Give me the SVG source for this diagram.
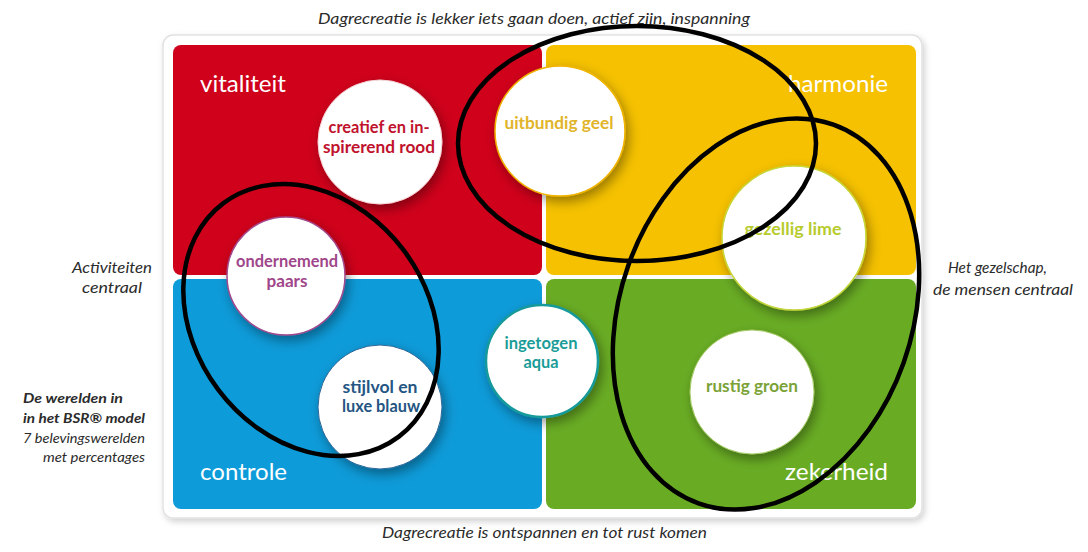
<svg xmlns="http://www.w3.org/2000/svg" width="1088" height="552" viewBox="0 0 1088 552">
  <defs>
    <filter id="panelShadow" x="-5%" y="-5%" width="110%" height="112%">
      <feDropShadow dx="2" dy="3" stdDeviation="3" flood-color="#000" flood-opacity="0.18"/>
    </filter>
    <filter id="circleShadow" x="-30%" y="-30%" width="170%" height="170%">
      <feDropShadow dx="3" dy="5" stdDeviation="6" flood-color="#000" flood-opacity="0.38"/>
    </filter>
    <style>
      .caption { font-family: Lato, "Liberation Sans", sans-serif; font-style: italic; fill: #2b2b2b; }
      .quad { font-family: Lato, "Liberation Sans", sans-serif; font-size: 24px; fill: #ffffff; }
      .ctext { font-family: Lato, "Liberation Sans", sans-serif; font-weight: bold; font-size: 16.5px; text-anchor: middle; }
      .bubble { fill: #ffffff; filter: url(#circleShadow); }
      .hl { fill: none; stroke: #000; stroke-width: 4.5; }
    </style>
  </defs>

  <rect width="1088" height="552" fill="#ffffff"/>

  <!-- captions -->
  <g id="captions">
    <text class="caption" x="318" y="24" font-size="16" textLength="432" lengthAdjust="spacingAndGlyphs">Dagrecreatie is lekker iets gaan doen, actief zijn, inspanning</text>
    <text class="caption" x="382" y="538" font-size="16" textLength="325" lengthAdjust="spacingAndGlyphs">Dagrecreatie is ontspannen en tot rust komen</text>
    <text class="caption" x="72" y="273" font-size="14.5" textLength="80" lengthAdjust="spacingAndGlyphs">Activiteiten</text>
    <text class="caption" x="82" y="293" font-size="14.5" textLength="60" lengthAdjust="spacingAndGlyphs">centraal</text>
    <text class="caption" x="948" y="273" font-size="14.5" textLength="99" lengthAdjust="spacingAndGlyphs">Het gezelschap,</text>
    <text class="caption" x="933" y="295" font-size="14.5" textLength="140" lengthAdjust="spacingAndGlyphs">de mensen centraal</text>
    <text class="caption" x="23" y="403" font-size="14" font-weight="bold" fill="#111" textLength="100" lengthAdjust="spacingAndGlyphs">De werelden in</text>
    <text class="caption" x="23" y="423" font-size="14" font-weight="bold" fill="#111" textLength="122" lengthAdjust="spacingAndGlyphs">in het BSR® model</text>
    <text class="caption" x="23" y="443" font-size="14" textLength="122" lengthAdjust="spacingAndGlyphs">7 belevingswerelden</text>
    <text class="caption" x="43" y="462" font-size="14" textLength="102" lengthAdjust="spacingAndGlyphs">met percentages</text>
  </g>

  <!-- panel -->
  <g id="panel">
    <rect x="163" y="35" width="759" height="483" rx="10" fill="#ffffff" stroke="#e2e2e2" stroke-width="1.5" filter="url(#panelShadow)"/>
  </g>

  <!-- quadrants -->
  <g id="q-vitaliteit">
    <rect x="173" y="45" width="369" height="230" rx="8" fill="#d0011b"/>
    <text class="quad" x="200" y="92" textLength="86" lengthAdjust="spacingAndGlyphs">vitaliteit</text>
  </g>
  <g id="q-harmonie">
    <rect x="546" y="45" width="370" height="230" rx="8" fill="#f5c100"/>
    <text class="quad" x="788" y="92" textLength="100" lengthAdjust="spacingAndGlyphs">harmonie</text>
  </g>
  <g id="q-controle">
    <rect x="173" y="279" width="369" height="230" rx="8" fill="#0e9bd9"/>
    <text class="quad" x="200" y="480" textLength="87" lengthAdjust="spacingAndGlyphs">controle</text>
  </g>
  <g id="q-zekerheid">
    <rect x="546" y="279" width="370" height="230" rx="8" fill="#69ac24"/>
    <text class="quad" x="785" y="480" textLength="103" lengthAdjust="spacingAndGlyphs">zekerheid</text>
  </g>

  <!-- worlds -->
  <g id="w-rood">
    <circle class="bubble" cx="380" cy="142" r="62" stroke="#f2d6d8" stroke-width="1"/>
    <text class="ctext" x="379" y="133" fill="#c0122c" textLength="101" lengthAdjust="spacingAndGlyphs">creatief en in-</text>
    <text class="ctext" x="379" y="153" fill="#c0122c" textLength="112" lengthAdjust="spacingAndGlyphs">spirerend rood</text>
  </g>
  <g id="w-geel">
    <circle class="bubble" cx="560" cy="131" r="65" stroke="#efb300" stroke-width="1.5"/>
    <text class="ctext" x="559" y="129" fill="#e1b42a" textLength="109" lengthAdjust="spacingAndGlyphs">uitbundig geel</text>
  </g>
  <g id="w-lime">
    <circle class="bubble" cx="794" cy="238" r="72" stroke="#c6d63a" stroke-width="1.5"/>
    <text class="ctext" x="793" y="235" fill="#b7cb2c" textLength="97" lengthAdjust="spacingAndGlyphs">gezellig lime</text>
  </g>
  <g id="w-paars">
    <circle class="bubble" cx="286" cy="276" r="59" stroke="#a2498c" stroke-width="1.5"/>
    <text class="ctext" x="287" y="267" fill="#a0468a" textLength="102" lengthAdjust="spacingAndGlyphs">ondernemend</text>
    <text class="ctext" x="287" y="287" fill="#a0468a" textLength="41" lengthAdjust="spacingAndGlyphs">paars</text>
  </g>
  <g id="w-blauw">
    <circle class="bubble" cx="380" cy="407" r="62" stroke="#2a6496" stroke-width="1"/>
    <text class="ctext" x="380" y="393" fill="#255582" textLength="75" lengthAdjust="spacingAndGlyphs">stijlvol en</text>
    <text class="ctext" x="381" y="412" fill="#255582" textLength="78" lengthAdjust="spacingAndGlyphs">luxe blauw</text>
  </g>
  <g id="w-aqua">
    <circle class="bubble" cx="542" cy="361" r="56" stroke="#17999a" stroke-width="2.5"/>
    <text class="ctext" x="541" y="349" fill="#1a9c98" textLength="73" lengthAdjust="spacingAndGlyphs">ingetogen</text>
    <text class="ctext" x="541" y="368" fill="#1a9c98" textLength="35" lengthAdjust="spacingAndGlyphs">aqua</text>
  </g>
  <g id="w-groen">
    <circle class="bubble" cx="752" cy="392" r="62" stroke="#a8cc6a" stroke-width="1"/>
    <text class="ctext" x="752" y="392" fill="#7aa236" textLength="92" lengthAdjust="spacingAndGlyphs">rustig groen</text>
  </g>

  <!-- hand-drawn highlight ellipses -->
  <g id="connectors">
    <ellipse class="hl" cx="637" cy="143.5" rx="179" ry="117.5"/>
    <ellipse class="hl" cx="311" cy="320" rx="146" ry="116" transform="rotate(53 311 320)"/>
    <ellipse class="hl" cx="766" cy="314" rx="146" ry="201" transform="rotate(19.6 766 314)"/>
  </g>
</svg>
